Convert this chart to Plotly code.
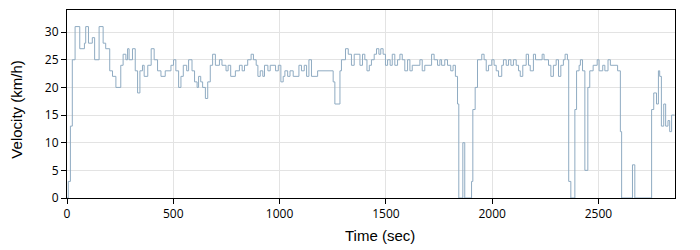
import plotly.graph_objects as go

time_s = [0, 6, 16, 25, 38, 60, 82, 88, 101, 119, 130, 151, 170, 182, 201, 214, 230, 253, 264, 277,
          285, 292, 308, 321, 332, 343, 355, 363, 380, 396, 410, 426, 442, 462, 489, 501, 512, 525, 536, 547,
          563, 572, 588, 600, 612, 619, 629, 638, 651, 662, 674, 685, 698, 717, 729, 748, 758, 770, 792, 811,
          824, 835, 850, 866, 877, 890, 898, 909, 921, 929, 945, 956,
          981, 994, 1006, 1017, 1025, 1038, 1049, 1064, 1091, 1103, 1116, 1127, 1138, 1150, 1179, 1252, 1260, 1284,
          1291, 1310, 1323, 1338, 1351, 1378, 1390, 1401, 1411, 1422, 1432, 1445, 1456, 1467, 1476, 1487, 1498, 1508,
          1520, 1530, 1542, 1555, 1566, 1577, 1589, 1602, 1613, 1624, 1660, 1671, 1683, 1715, 1727, 1743, 1754, 1762,
          1777, 1790, 1805, 1816, 1827, 1837, 1843, 1862, 1871, 1903, 1909, 1920, 1931, 1951, 1962, 1972, 1983, 1998,
          2009, 2019, 2030, 2045, 2053, 2066, 2077, 2088, 2100, 2113, 2124, 2132, 2144, 2160, 2171, 2179, 2194, 2204,
          2235, 2244, 2265, 2276, 2288, 2301, 2312, 2323, 2335, 2343, 2354, 2360, 2370, 2389, 2397, 2409, 2415, 2425,
          2436, 2450, 2459, 2475, 2494, 2503, 2520, 2530, 2545, 2556, 2590, 2603, 2609, 2660, 2671, 2750, 2760, 2773,
          2782, 2788, 2796, 2807, 2816, 2827, 2835, 2844, 2858]
velocity_kmh = [0, 3, 13, 25, 31, 27, 28, 31, 28, 29, 25, 31, 28, 27, 23, 22, 20, 24, 26, 25,
                27, 25, 27, 23, 19, 23, 24, 22, 24, 27, 25, 23, 22, 23, 24, 25, 23, 20, 22, 24,
                23, 25, 23, 21, 20, 22, 21, 20, 18, 21, 24, 26, 24, 25, 24, 23, 24, 22, 23, 24,
                23, 24, 25, 26, 25, 24, 22, 23, 22, 24, 23, 24,
                23, 24, 21, 22, 23, 22, 23, 22, 24, 23, 24, 22, 25, 22, 23, 21, 17, 23,
                25, 27, 26, 24, 26, 24, 26, 25, 23, 24, 25, 26, 27, 26, 27, 26, 24, 25,
                24, 26, 24, 25, 26, 25, 23, 25, 23, 24, 25, 23, 24, 26, 25, 24, 25, 24,
                25, 24, 23, 24, 22, 17, 0, 10, 0, 3, 16, 20, 25, 26, 25, 23, 24, 25,
                24, 23, 22, 24, 25, 24, 25, 24, 25, 24, 23, 22, 24, 26, 24, 23, 26, 25,
                26, 25, 24, 22, 24, 25, 22, 24, 25, 26, 25, 3, 0, 16, 23, 24, 25, 23,
                5, 20, 23, 24, 25, 23, 24, 23, 25, 24, 23, 12, 0, 6, 0, 16, 19, 17,
                23, 22, 13, 17, 13, 14, 12, 15, 15]

x_ticks = [0, 500, 1000, 1500, 2000, 2500]
y_ticks = [0, 5, 10, 15, 20, 25, 30]

fig = go.Figure()
fig.add_trace(go.Scatter(x=time_s, y=velocity_kmh, mode="lines", line_shape="hv",
                         line=dict(color="#8fabc2", width=1), showlegend=False))

axis_common = dict(showline=True, linecolor="black", linewidth=1, mirror=True,
                   ticks="outside", ticklen=5, tickcolor="black", tickwidth=1,
                   showgrid=True, gridcolor="#e3e3e3", gridwidth=1, zeroline=False,
                   tickfont=dict(family="Open Sans", size=12, color="black"))

fig.update_xaxes(range=[0, 2860], tickvals=x_ticks, **axis_common)
fig.update_yaxes(range=[0, 34], tickvals=y_ticks, **axis_common)

fig.add_annotation(text="Time (sec)", xref="paper", yref="paper", x=0.515, y=0,
                   yshift=-37, yanchor="middle", showarrow=False,
                   font=dict(family="Liberation Sans", size=15, color="black"))
fig.add_annotation(text="Velocity (km/h)", xref="paper", yref="paper", x=0, y=0.47,
                   xshift=-50, xanchor="center", showarrow=False, textangle=-90,
                   font=dict(family="Liberation Sans", size=15, color="black"))

fig.update_layout(width=700, height=250, margin=dict(l=67, r=25, t=10, b=52),
                  plot_bgcolor="white", paper_bgcolor="white")

fig.write_html("out.html")
